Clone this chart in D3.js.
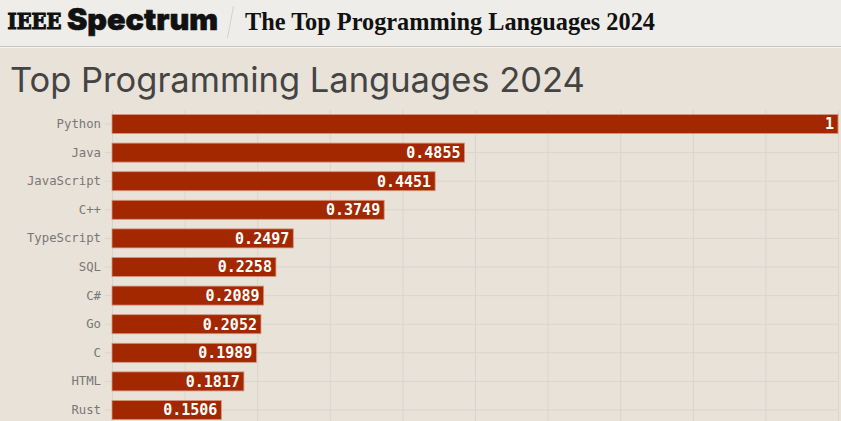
<!DOCTYPE html>
<html>
<head>
<meta charset="utf-8">
<script src="https://cdn.jsdelivr.net/npm/d3@7"></script>
<style>
  html, body { margin: 0; padding: 0; background: #e9e2d8; overflow: hidden; }
  svg { display: block; }
</style>
</head>
<body>
<svg id="chart" width="841" height="421"></svg>
<script>
const categories = ["Python","Java","JavaScript","C++","TypeScript","SQL","C#","Go","C","HTML","Rust"];
const values = [1, 0.4855, 0.4451, 0.3749, 0.2497, 0.2258, 0.2089, 0.2052, 0.1989, 0.1817, 0.1506];
const xTicks = [0,0.1,0.2,0.3,0.4,0.5,0.6,0.7,0.8,0.9,1];
const brandA = "IEEE";
const brandB = "Spectrum";
const pageTitle = "The Top Programming Languages 2024";
const chartTitle = "Top Programming Languages 2024";

const data = categories.map((c, i) => ({ name: c, value: values[i] }));
const W = 841, H = 421;
const svg = d3.select("#chart");

// Header
svg.append("rect").attr("x",0).attr("y",0).attr("width",W).attr("height",46).attr("fill","#eeede9");
svg.append("line").attr("x1",0).attr("x2",W).attr("y1",46.5).attr("y2",46.5).attr("stroke","#c6c6c4").attr("stroke-width",1);
svg.append("line").attr("x1",0).attr("x2",W).attr("y1",47.5).attr("y2",47.5).attr("stroke","#f4f3f0").attr("stroke-width",1);
svg.append("text").attr("x",7.5).attr("y",29)
  .attr("font-family","'DejaVu Serif', serif").attr("font-weight",700)
  .attr("font-size",22.5).attr("fill","#111").attr("stroke","#111").attr("stroke-width",1.2)
  .attr("textLength",54).attr("lengthAdjust","spacingAndGlyphs").text(brandA);
svg.append("text").attr("x",67).attr("y",29.5)
  .attr("font-family","Inter, 'Noto Sans', sans-serif").attr("font-weight",900)
  .attr("font-size",29.5).attr("fill","#111").attr("stroke","#111").attr("stroke-width",0.6)
  .attr("textLength",151).attr("lengthAdjust","spacingAndGlyphs").text(brandB);
svg.append("line").attr("x1",233.5).attr("y1",6).attr("x2",227.5).attr("y2",38)
  .attr("stroke","#d2d2d0").attr("stroke-width",1);
svg.append("text").attr("x",245).attr("y",30)
  .attr("font-family","'Liberation Serif', 'DejaVu Serif', serif").attr("font-weight",700)
  .attr("font-size",24.3).attr("fill","#111").text(pageTitle);

// Chart title
svg.append("text").attr("x",10).attr("y",92)
  .attr("font-family","Inter, 'Open Sans', sans-serif").attr("font-weight",400)
  .attr("font-size",34.5).attr("fill","#444").text(chartTitle);

const x = d3.scaleLinear().domain([0,1]).range([112, 838]);
const y = d3.scaleBand().domain(categories).range([109.7, 109.7 + 28.6*categories.length])
  .paddingInner(0.335).paddingOuter(0.1675);

const g = svg.append("g");

// vertical grid
g.append("g").attr("transform", `translate(0,${y.range()[0]})`)
  .call(d3.axisBottom(x).tickValues(xTicks).tickSize(H).tickFormat(""))
  .call(s => s.select(".domain").remove())
  .call(s => s.selectAll(".tick line").attr("stroke","#d9d5ce"));

// horizontal grid + y labels
g.append("g").attr("transform","translate(112,0)")
  .call(d3.axisLeft(y).tickSize(7).tickPadding(4))
  .call(s => s.select(".domain").remove())
  .call(s => s.selectAll(".tick line").attr("stroke","#d9d5ce").attr("x2", 726).attr("x1",-7))
  .call(s => s.selectAll(".tick text")
      .attr("font-family","'DejaVu Sans Mono', monospace").attr("font-size",12.3)
      .attr("fill","#777").attr("x",-11));

// bars
g.selectAll("rect.bar").data(data).join("rect").attr("class","bar")
  .attr("x", x(0)).attr("y", d => y(d.name))
  .attr("width", d => x(d.value) - x(0)).attr("height", y.bandwidth())
  .attr("fill","#a32800").attr("stroke","#d4957f").attr("stroke-width",0.8);

// value labels
g.selectAll("text.val").data(data).join("text").attr("class","val")
  .attr("x", d => x(d.value) - 4).attr("y", d => y(d.name) + y.bandwidth()/2)
  .attr("dy","0.36em").attr("text-anchor","end")
  .attr("font-family","'DejaVu Sans Mono', monospace").attr("font-weight",700)
  .attr("font-size",15).attr("fill","#fff")
  .text(d => String(d.value));
</script>
</body>
</html>
